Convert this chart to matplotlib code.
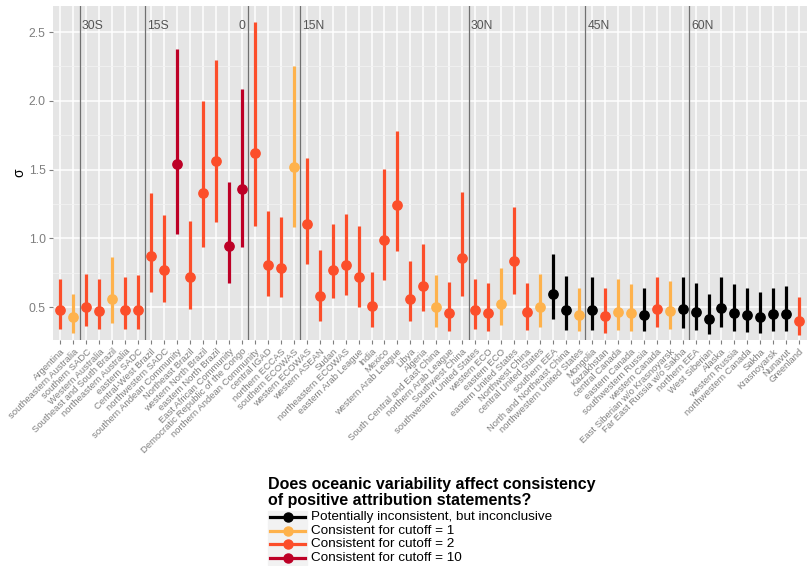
import matplotlib
matplotlib.use('Agg')
import matplotlib.pyplot as plt
from matplotlib.lines import Line2D
from matplotlib.patches import Rectangle
import numpy as np

plt.rcParams['font.family'] = ['Liberation Sans', 'DejaVu Sans']

regioni = ['Argentina', 'southeastern Australia', 'southern SADC', 'Western Australia',
           'Southeast and South Brazil', 'northeastern Australia', 'eastern SADC',
           'Central-West Brazil', 'northwestern SADC', 'southern Andean Community',
           'Northeast Brazil', 'western North Brazil', 'eastern North Brazil',
           'East African Community', 'Democratic Republic of the Congo',
           'northern Andean Community', 'central IGAD', 'northern ECCAS', 'southern ECOWAS',
           'western ECOWAS', 'western ASEAN', 'Sudan', 'northeastern ECOWAS',
           'eastern Arab League', 'India', 'Mexico', 'western Arab League', 'Libya', 'Algeria',
           'South Central and East China', 'northern Arab League', 'Southwest China',
           'southwestern United States', 'western ECO', 'eastern ECO', 'eastern United States',
           'Northwest China', 'central United States', 'southern EEA',
           'North and Northeast China', 'northwestern United States', 'Mongolia', 'Kazakhstan',
           'central Canada', 'eastern Canada', 'southwestern Russia', 'western Canada',
           'East Siberian w/o Krasnoyarsk', 'Far East Russia w/o Sakha', 'northern EEA',
           'West Siberian', 'Alaska', 'western Russia', 'northwestern Canada', 'Sakha',
           'Krasnoyarsk', 'Nunavut', 'Greenland']

# sigma stimato, estremi inferiore e superiore
sigma = [0.478, 0.427, 0.500, 0.468, 0.558, 0.478, 0.478, 0.872, 0.770, 1.542,
         0.716, 1.331, 1.564, 0.945, 1.360, 1.622, 0.809, 0.787, 1.520,
         1.107, 0.580, 0.772, 0.809, 0.721, 0.505, 0.991, 1.239, 0.561, 0.653,
         0.502, 0.456, 0.860, 0.478, 0.456, 0.524, 0.838, 0.464, 0.498, 0.597,
         0.481, 0.442, 0.481, 0.437, 0.466, 0.459, 0.444, 0.485, 0.473, 0.485,
         0.466, 0.413, 0.495, 0.456, 0.444, 0.430, 0.451, 0.451, 0.398]
basso = [0.337, 0.313, 0.359, 0.337, 0.386, 0.337, 0.342, 0.609, 0.539, 1.034,
         0.485, 0.935, 1.122, 0.675, 0.935, 1.088, 0.580, 0.570, 1.085,
         0.816, 0.398, 0.568, 0.590, 0.502, 0.357, 0.694, 0.908, 0.398, 0.471,
         0.354, 0.328, 0.580, 0.340, 0.328, 0.371, 0.597, 0.330, 0.352, 0.415,
         0.335, 0.323, 0.335, 0.313, 0.332, 0.328, 0.323, 0.352, 0.340, 0.347,
         0.335, 0.306, 0.352, 0.328, 0.318, 0.310, 0.323, 0.325, 0.298]
alto = [0.707, 0.597, 0.743, 0.702, 0.862, 0.721, 0.736, 1.328, 1.173, 2.378,
        1.127, 2.001, 2.298, 1.409, 2.084, 2.577, 1.197, 1.154, 2.257,
        1.584, 0.913, 1.103, 1.175, 1.088, 0.755, 1.503, 1.780, 0.833, 0.957,
        0.731, 0.680, 1.336, 0.704, 0.672, 0.784, 1.229, 0.672, 0.738, 0.884,
        0.726, 0.638, 0.716, 0.641, 0.704, 0.668, 0.636, 0.716, 0.687, 0.721,
        0.675, 0.592, 0.719, 0.668, 0.636, 0.612, 0.636, 0.651, 0.570]
# 0 = inconcludente, 1 = cutoff 1, 2 = cutoff 2, 3 = cutoff 10
classe = [2, 1, 2, 2, 1, 2, 2, 2, 2, 3,
          2, 2, 2, 3, 3, 2, 2, 2, 1,
          2, 2, 2, 2, 2, 2, 2, 2, 2, 2,
          1, 2, 2, 2, 2, 1, 2, 2, 1, 0,
          0, 1, 0, 2, 1, 1, 0, 2, 1, 0,
          0, 0, 0, 0, 0, 0, 0, 0, 2]

etichette_classi = ['Potentially inconsistent, but inconclusive', 'Consistent for cutoff = 1',
                    'Consistent for cutoff = 2', 'Consistent for cutoff = 10']
colori = ['#000000', '#FEB24C', '#FC4E2A', '#BD0026']

# latitudini: posizione (tra due regioni) ed etichetta
lat_pos = [1.5, 6.5, 14.5, 18.5, 31.5, 40.5, 48.5]
lat_nomi = ['30S', '15S', '0', '15N', '30N', '45N', '60N']

fig = plt.figure(figsize=(8.11, 5.66), dpi=100)
ax = fig.add_axes([52.7 / 811, 1 - 340 / 566, (807 - 52.7) / 811, (340 - 6) / 566])
ax.set_facecolor('#E5E5E5')
for s in ax.spines.values():
    s.set_visible(False)

x = np.arange(len(regioni))
ax.set_xlim(-0.6, len(regioni) - 0.4)
ax.set_ylim(0.26, 2.69)

ax.set_yticks([0.5, 1.0, 1.5, 2.0, 2.5])
ax.set_yticks([0.75, 1.25, 1.75, 2.25], minor=True)
ax.grid(which='major', color='white', lw=1.1, zorder=0)
ax.grid(which='minor', axis='y', color='#F2F2F2', lw=0.6, zorder=0)
ax.set_axisbelow(True)

for xp, nome in zip(lat_pos, lat_nomi):
    ax.axvline(xp, color='#707070', lw=0.9, zorder=1)
    if nome == '0':
        ax.text(xp - 0.2, 2.545, nome, ha='right', va='center', fontsize=8.7, color='#555555')
    else:
        ax.text(xp + 0.15, 2.545, nome, ha='left', va='center', fontsize=8.7, color='#555555')

for i in range(len(regioni)):
    c = colori[classe[i]]
    ax.vlines(x[i], basso[i], alto[i], color=c, lw=2.3, zorder=2)
    ax.plot(x[i], sigma[i], 'o', color=c, ms=6.7, zorder=3)

ax.set_xticks(x)
ax.set_xticklabels(regioni, rotation=45, ha='right', rotation_mode='anchor',
                   fontsize=6.8, color='#7F7F7F')
ax.tick_params(axis='x', length=3, color='#7F7F7F', pad=2)
ax.tick_params(axis='y', length=3, color='#7F7F7F', labelcolor='#7F7F7F', labelsize=8.7, pad=2)
ax.tick_params(which='minor', length=0)
ax.set_ylabel('σ', fontsize=10, labelpad=2)

# legenda disegnata a mano
fig.text(268 / 811, 1 - 477 / 566,
         'Does oceanic variability affect consistency\nof positive attribution statements?',
         ha='left', va='top', fontsize=11.5, fontweight='bold', linespacing=1.05)
for k in range(4):
    yc = 1 - (517 + 13.7 * k) / 566
    fig.patches.append(Rectangle((268 / 811, yc - 6.5 / 566), 39 / 811, 13 / 566,
                                 transform=fig.transFigure, color='#F2F2F2', zorder=0))
    fig.add_artist(Line2D([270 / 811, 305 / 811], [yc, yc], color=colori[k], lw=2.3,
                          transform=fig.transFigure))
    fig.add_artist(Line2D([287.5 / 811], [yc], marker='o', ms=6.5, color=colori[k],
                          transform=fig.transFigure))
    fig.text(311 / 811, yc, etichette_classi[k], ha='left', va='center', fontsize=9.7)

fig.savefig('out.png', dpi=100)
